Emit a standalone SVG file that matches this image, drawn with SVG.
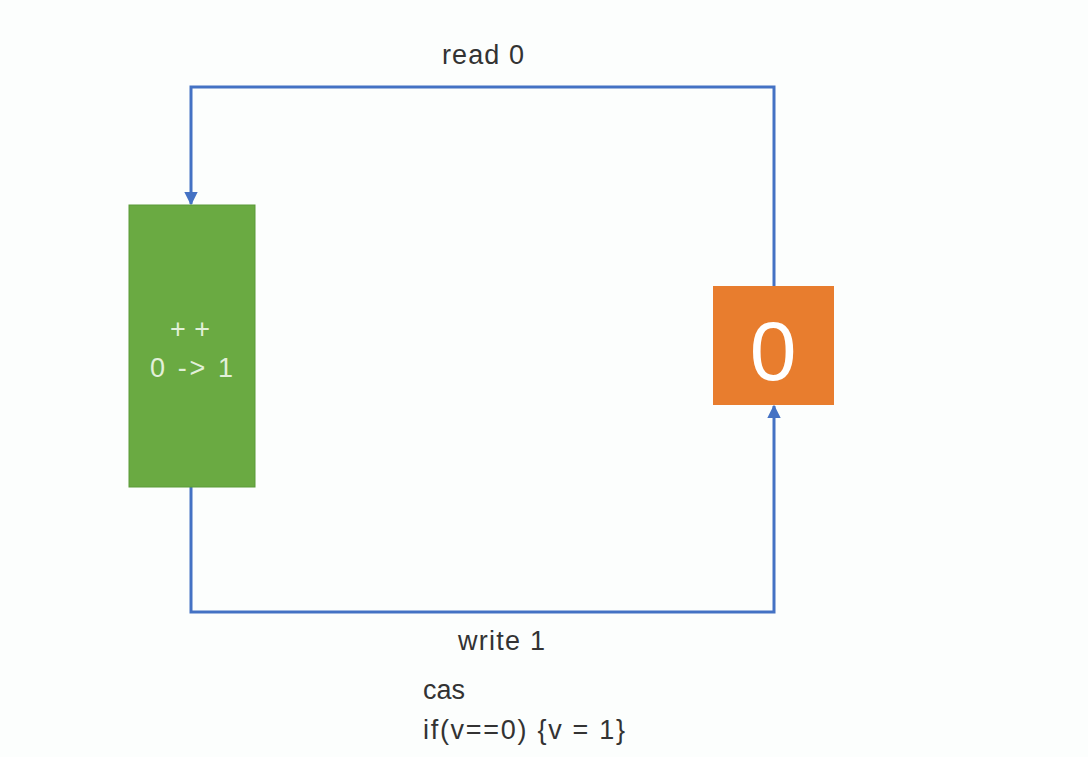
<svg xmlns="http://www.w3.org/2000/svg" width="1088" height="757" viewBox="0 0 1088 757">
<defs>
<style>
.conn{fill:none;stroke:#4472C4;stroke-width:3}
.lbl{font-family:"Liberation Sans",Arial,sans-serif;font-size:27px;fill:#333}
.in{font-family:"Liberation Sans",Arial,sans-serif;font-size:27px;fill:#e2f0d9}
</style>
<marker id="ah" viewBox="0 0 10 10" refX="9" refY="5" markerWidth="4.5" markerHeight="4.5" orient="auto-start-reverse" markerUnits="strokeWidth">
<path d="M0,0 L10,5 L0,10 z" fill="#4472C4"/>
</marker>
</defs>
<rect width="1088" height="757" fill="#fcfefd"/>
<g id="connectors">
<path class="conn" d="M774,286 V87 H191 V204" marker-end="url(#ah)"/>
<path class="conn" d="M191,487 V612 H774 V406" marker-end="url(#ah)"/>
</g>
<g id="node-inc">
<rect x="129" y="205" width="126" height="282" fill="#6AAA42" stroke="#5a9a38" stroke-width="1"/>
<text class="in" x="170" y="338" textLength="40">++</text>
<text class="in" x="150" y="377" textLength="83">0 -&gt; 1</text>
</g>
<g id="node-value">
<rect x="713" y="286" width="121" height="119" fill="#E87D2E"/>
<text x="773" y="380" font-family="Liberation Sans,Arial,sans-serif" font-size="84" fill="#fff" text-anchor="middle">0</text>
</g>
<g id="labels">
<text class="lbl" x="442" y="64" textLength="82">read 0</text>
<text class="lbl" x="458" y="650" textLength="87">write 1</text>
<text class="lbl" x="423" y="699">cas</text>
<text class="lbl" x="423" y="739" textLength="202">if(v==0) {v = 1}</text>
</g>
</svg>
